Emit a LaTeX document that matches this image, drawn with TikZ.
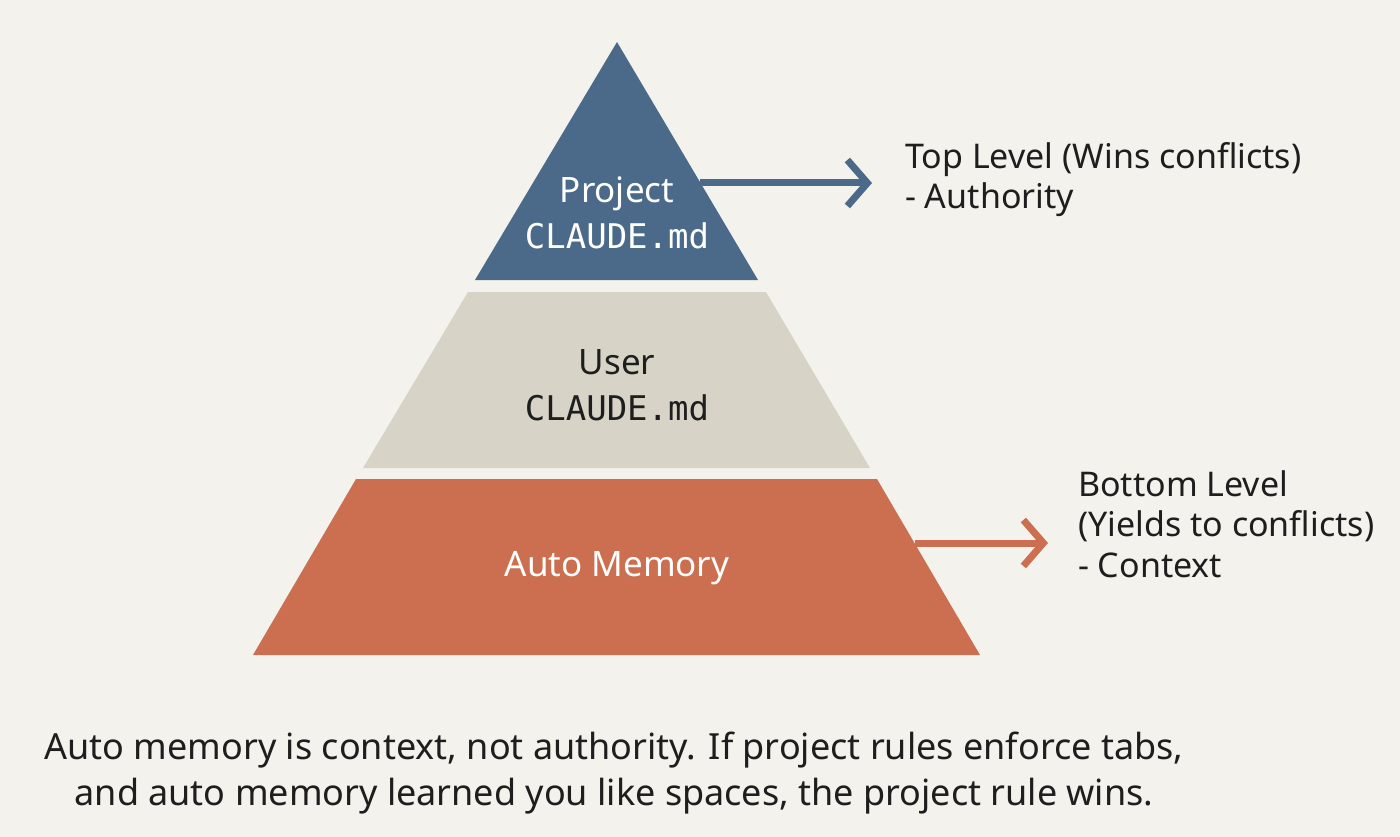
\documentclass[tikz,border=0pt]{standalone}
\usepackage{fontspec}
\setmainfont{Noto Sans}
\setmonofont{DejaVu Sans Mono}
\usetikzlibrary{arrows.meta}
\definecolor{bg}{HTML}{F4F2EC}
\definecolor{topc}{HTML}{4B6A8A}
\definecolor{midc}{HTML}{D7D3C7}
\definecolor{botc}{HTML}{CC6E50}
\definecolor{txt}{HTML}{1E1E1E}
\begin{document}
\begin{tikzpicture}[x=1pt,y=-1pt,
  lbl/.style={font=\fontsize{35}{46}\selectfont,align=center},
  side/.style={font=\fontsize{34}{40.5}\selectfont,align=left,anchor=north west,text=txt,inner sep=0},
  arr/.style={line width=7pt,-{Straight Barb[length=20pt,width=46pt,line width=7pt]}}]
\useasboundingbox[fill=bg] (0,0) rectangle (1400,837);
\fill[topc] (617,42) -- (758,280) -- (475,280) -- cycle;
\fill[midc] (468,292) -- (766,292) -- (870,468) -- (363,468) -- cycle;
\fill[botc] (356,479) -- (877,479) -- (980,655) -- (253,655) -- cycle;
\node[lbl,text=white] (p) at (617,213) {Project\\\fontsize{34}{46}\selectfont\texttt{CLAUDE.md}};
\node[lbl,text=txt] (u) at (617,385) {User\\\fontsize{34}{46}\selectfont\texttt{CLAUDE.md}};
\node[lbl,text=white] (a) at (617,568) {Auto Memory};
\coordinate (t1) at (700,183); \coordinate (t2) at (872,183);
\coordinate (b1) at (915,543); \coordinate (b2) at (1048,543);
\draw[arr,topc] (t1) -- (t2);
\draw[arr,botc] (b1) -- (b2);
\node[side] (tl) at (905,142) {Top Level (Wins conflicts)\\- Authority};
\node[side] (bl) at (1078,470) {Bottom Level\\(Yields to conflicts)\\- Context};
\node[font=\fontsize{36}{46}\selectfont,align=center,text=txt] (c) at (614,773) {Auto memory is context, not authority. If project rules enforce tabs,\\and auto memory learned you like spaces, the project rule wins.};
\end{tikzpicture}
\end{document}
